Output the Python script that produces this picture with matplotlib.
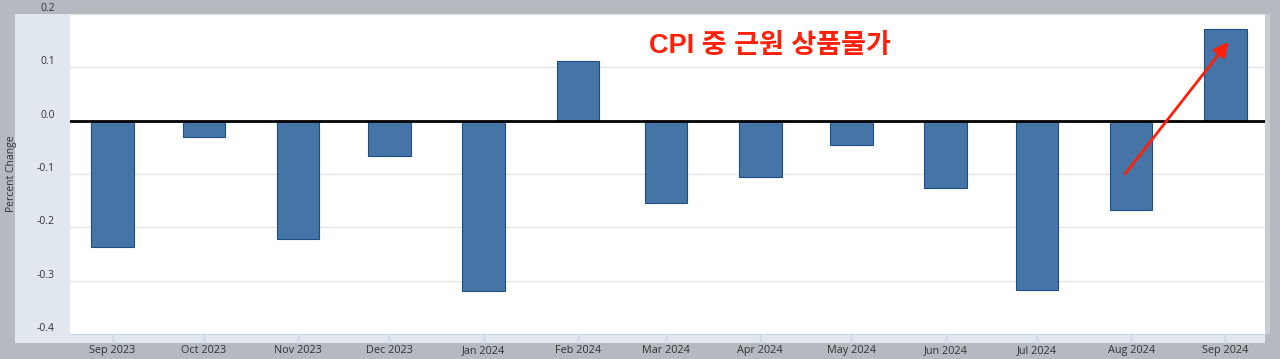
import pandas as pd
import matplotlib.pyplot as plt
import matplotlib.dates as mdates
from matplotlib.patches import Rectangle

months = ['2023-09-01', '2023-10-01', '2023-11-01', '2023-12-01', '2024-01-01',
          '2024-02-01', '2024-03-01', '2024-04-01', '2024-05-01', '2024-06-01',
          '2024-07-01', '2024-08-01', '2024-09-01']
pct_change = [-0.236, -0.03, -0.222, -0.066, -0.319, 0.111, -0.155,
              -0.106, -0.046, -0.126, -0.317, -0.167, 0.171]
yticks = [-0.4, -0.3, -0.2, -0.1, 0.0, 0.1, 0.2]
title = 'CPI 중 근원 상품물가'

dates = pd.to_datetime(months)

W, H = 1280, 359
fig = plt.figure(figsize=(W / 100, H / 100), dpi=100, facecolor='#b6bac0')

# light panel behind the plot area (pixel coords from the top-left)
def px_rect(x0, y0, x1, y1, color):
    fig.patches.append(Rectangle((x0 / W, 1 - y1 / H), (x1 - x0) / W, (y1 - y0) / H,
                                 transform=fig.transFigure, facecolor=color,
                                 edgecolor='none', zorder=-5))

px_rect(15, 14, 1265, 343, '#e0e7ef')
px_rect(1265, 14, 1270, 334, '#c9ccd1')

ax = fig.add_axes([70 / W, 1 - 334 / H, 1195 / W, 320 / H])
ax.set_zorder(5)
ax.set_facecolor('white')

ax.bar(dates, pct_change, width=14, color='#4574a7', edgecolor='#1d4f86',
       linewidth=0.8, zorder=2)
ax.axhline(0, color='black', lw=2, zorder=3)

ax.set_ylim(-0.4, 0.2)
ax.set_yticks(yticks)
ax.set_yticklabels(['%.1f' % v for v in yticks])
ax.grid(axis='y', color='#e6e6e6', lw=1, zorder=0)
ax.set_xlim(dates[0] - pd.Timedelta(days=14), dates[-1] + pd.Timedelta(days=13))

ax.xaxis.set_major_locator(mdates.MonthLocator())
ax.xaxis.set_major_formatter(mdates.DateFormatter('%b %Y'))

for s in ['top', 'left', 'right']:
    ax.spines[s].set_visible(False)
ax.spines['bottom'].set_color('#ccd6eb')

ax.tick_params(axis='y', length=0, pad=11, labelsize=7.5, labelcolor='#333333')
ax.tick_params(axis='x', length=7, width=1, color='#ccd6eb', pad=7,
               labelsize=7.8, labelcolor='#333333')
for lab in ax.get_yticklabels():
    lab.set_verticalalignment('bottom')
    lab.set_family('Open Sans')
for lab in ax.get_xticklabels():
    lab.set_verticalalignment('baseline')
    lab.set_family('Open Sans')

ax.set_ylabel('Percent Change', fontsize=7.5, color='#333333', family='Open Sans')
ax.yaxis.set_label_coords(-0.044, 0.5)

ax.text(0.586, 0.9, title, transform=ax.transAxes, ha='center', va='center',
        fontsize=19.5, fontweight='bold', color='#ff200a',
        family=['Liberation Sans', 'Noto Sans CJK KR'])

ax.annotate('', xy=(pd.Timestamp('2024-09-02'), 0.148),
            xytext=(pd.Timestamp('2024-07-30'), -0.1),
            arrowprops=dict(arrowstyle='-|>', color='#ff200a', lw=2,
                            mutation_scale=22, shrinkA=0, shrinkB=0),
            zorder=5)

fig.savefig('out.png', dpi=100, facecolor=fig.get_facecolor())
